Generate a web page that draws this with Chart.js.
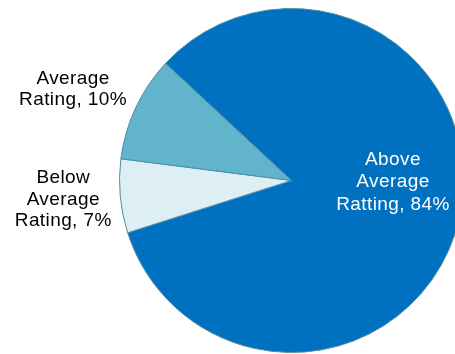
<!DOCTYPE html>
<html>
<head>
<meta charset="utf-8">
<script src="https://cdn.jsdelivr.net/npm/chart.js@4/dist/chart.umd.min.js"></script>
<style>
  html, body { margin: 0; padding: 0; width: 455px; height: 354px; overflow: hidden; background: #fff; }
  #wrap { position: absolute; left: 0; top: 0; width: 480px; height: 354px; }
</style>
</head>
<body>
<div id="wrap"><canvas id="c" width="480" height="354"></canvas></div>
<script>
// Rating distribution (percent of responses)
const categories = ['Above Average Ratting', 'Below Average Rating', 'Average Rating'];
const shares = [84, 7, 10];
const sliceColors = ['#0070C0', '#DDEEF4', '#62B3CC'];
const labelLines = [
  ['Above', 'Average', 'Ratting, 84%'],
  ['Below', 'Average', 'Rating, 7%'],
  ['Average', 'Rating, 10%']
];

// Label placement relative to the pie centre, in units of the radius
const labelPlacement = [
  { fx: 0.59, fy: 0.01, color: '#FFFFFF', lineH: 22.5 },
  { fx: -1.327, fy: 0.11, color: '#000000', lineH: 21.5 },
  { fx: -1.27, fy: -0.53, color: '#000000', lineH: 21 }
];

const sliceLabels = {
  id: 'sliceLabels',
  afterDatasetsDraw(chart) {
    const ctx = chart.ctx;
    const arcs = chart.getDatasetMeta(0).data;
    ctx.save();
    ctx.font = '19px "Liberation Sans", Arial, sans-serif';
    ctx.letterSpacing = '0.4px';
    ctx.textAlign = 'center';
    ctx.textBaseline = 'middle';
    arcs.forEach((arc, i) => {
      const p = labelPlacement[i];
      const r = arc.outerRadius;
      const x = arc.x + p.fx * r;
      const y = arc.y + p.fy * r;
      const lines = labelLines[i];
      const top = y - (lines.length - 1) * p.lineH / 2;
      ctx.fillStyle = p.color;
      lines.forEach((t, k) => ctx.fillText(t, x, top + k * p.lineH));
    });
    ctx.restore();
  }
};

new Chart(document.getElementById('c'), {
  type: 'pie',
  data: {
    labels: categories,
    datasets: [{
      data: shares,
      backgroundColor: sliceColors,
      borderColor: '#4E8FA4',
      borderWidth: 1
    }]
  },
  options: {
    responsive: false,
    animation: false,
    rotation: -47.1,
    radius: 172,
    layout: { padding: { left: 103, right: 0, top: 7, bottom: 0 } },
    plugins: {
      legend: { display: false },
      tooltip: { enabled: false }
    }
  },
  plugins: [sliceLabels]
});
</script>
</body>
</html>
